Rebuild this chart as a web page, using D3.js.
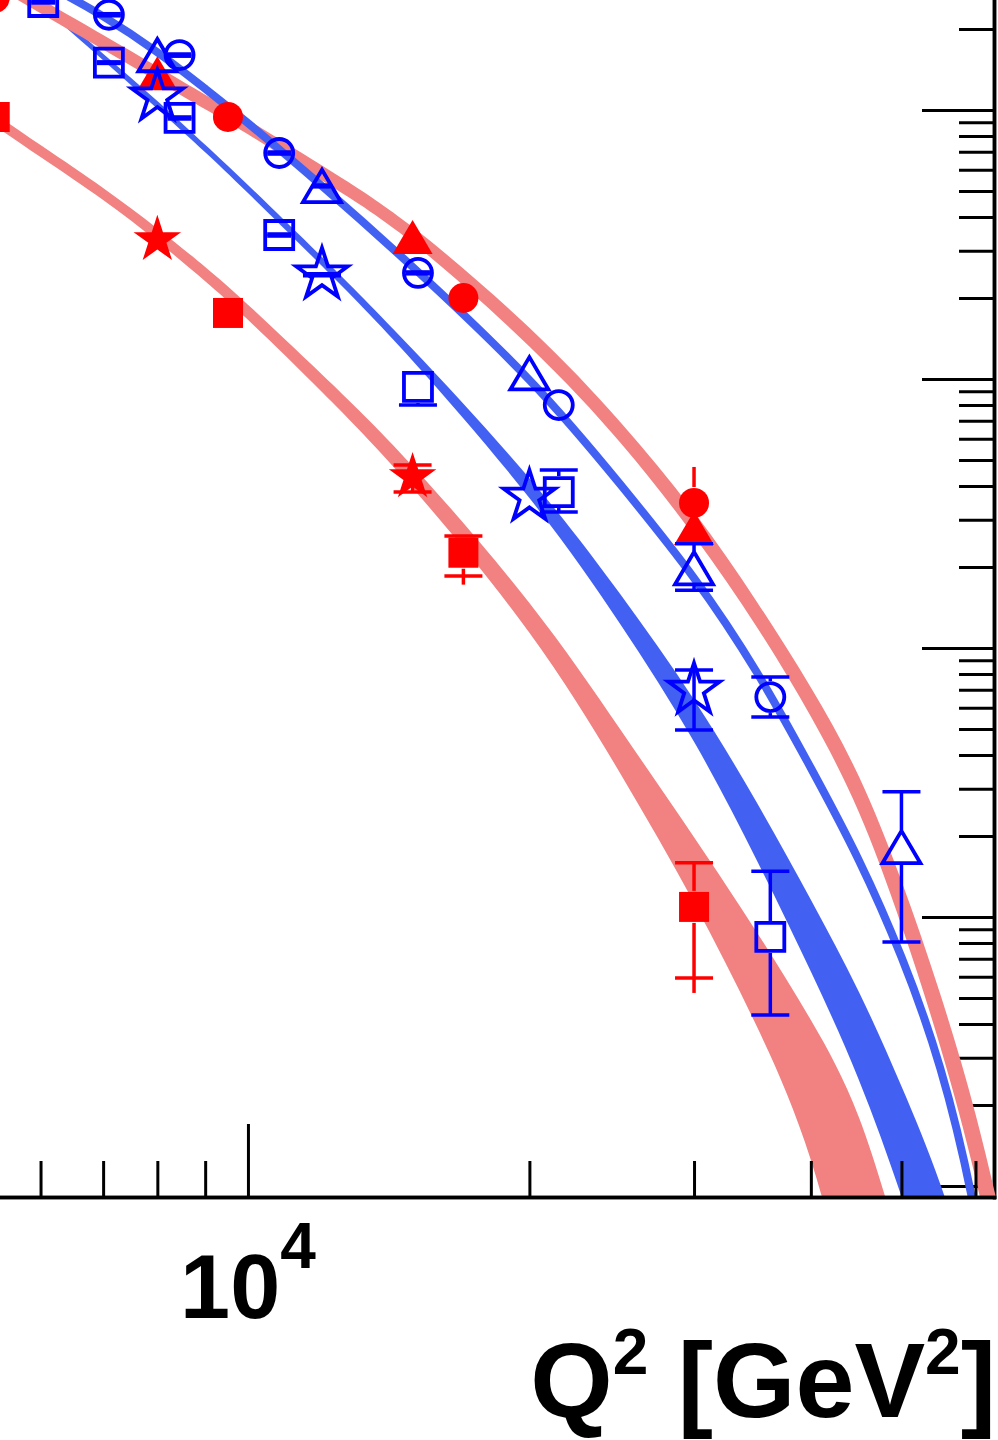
<!DOCTYPE html>
<html>
<head>
<meta charset="utf-8">
<script src="https://cdn.jsdelivr.net/npm/d3@7"></script>
<style>
  html, body { margin: 0; padding: 0; background: #ffffff; }
  svg { display: block; }
  text { font-family: "Liberation Sans", Arial, Helvetica, sans-serif; font-weight: bold; fill: #000; }
</style>
</head>
<body>
<svg id="chart" width="998" height="1440"></svg>
<script>
// ---------------------------------------------------------------
// Q² nodes (GeV²) at which the prediction bands are tabulated
const q2Nodes = [5000, 6000, 7000, 8000, 9000, 10000, 12000, 15000, 20000,
                 25000, 30000, 35000, 40000, 45000, 50000, 55000, 60000, 65000];

// upper red band: upper / lower edge
const upperRedHi = [3.75e-3, 2.59e-3, 1.90e-3, 1.45e-3, 1.14e-3, 9.20e-4, 6.22e-4, 3.67e-4, 1.55e-4,
                    6.93e-5, 3.20e-5, 1.49e-5, 7.13e-6, 3.34e-6, 1.36e-6, 5.18e-7, 1.85e-7, 5.81e-8];
const upperRedLo = [3.31e-3, 2.29e-3, 1.68e-3, 1.28e-3, 1.006e-3, 8.12e-4, 5.47e-4, 3.21e-4, 1.32e-4,
                    5.82e-5, 2.61e-5, 1.20e-5, 5.56e-6, 2.46e-6, 9.31e-7, 3.31e-7, 1.07e-7, 2.95e-8];

// upper blue curve
const upperBlue = [4.04e-3, 2.99e-3, 2.23e-3, 1.64e-3, 1.20e-3, 8.94e-4, 5.22e-4, 2.61e-4, 9.92e-5,
                   4.07e-5, 1.82e-5, 8.14e-6, 3.58e-6, 1.63e-6, 7.10e-7, 2.75e-7, 7.74e-8, 1.45e-8];

// lower blue band (first 17 nodes)
const lowerBlueHi = [4.48e-3, 2.59e-3, 1.62e-3, 1.08e-3, 7.42e-4, 5.26e-4, 2.84e-4, 1.29e-4, 4.28e-5,
                     1.59e-5, 6.42e-6, 2.67e-6, 1.16e-6, 5.29e-7, 2.35e-7, 1.02e-7, 3.89e-8];
const lowerBlueLo = [4.23e-3, 2.45e-3, 1.53e-3, 1.01e-3, 6.96e-4, 4.91e-4, 2.63e-4, 1.17e-4, 3.61e-5,
                     1.23e-5, 4.48e-6, 1.63e-6, 6.27e-7, 2.49e-7, 9.16e-8, 3.08e-8, 8.33e-9];

// lower red band (first 15 nodes)
const lowerRedHi = [1.14e-3, 7.41e-4, 5.13e-4, 3.63e-4, 2.61e-4, 1.89e-4, 1.04e-4, 4.75e-5, 1.47e-5,
                    5.00e-6, 1.98e-6, 8.80e-7, 4.14e-7, 1.81e-7, 5.64e-8];
const lowerRedLo = [1.03e-3, 6.69e-4, 4.63e-4, 3.25e-4, 2.31e-4, 1.66e-4, 8.95e-5, 3.93e-5, 1.14e-5,
                    3.43e-6, 1.13e-6, 3.93e-7, 1.25e-7, 2.52e-8, 4.32e-9];

// ---------------------------------------------------------------
// measured points (dσ/dQ²); errLo/errHi: capped bar ends, totLo/totHi: plain extension
const redCircleQ2  = [5360, 9520, 17000, 30000];
const redCircleVal = [2.61e-3, 9.42e-4, 2.00e-4, 3.46e-5];
const redCircleTotLo = [null, null, null, 2.63e-5];
const redCircleTotHi = [null, null, null, 4.71e-5];

const redSquareQ2  = [5360, 9520, 17000, 30000];
const redSquareVal = [9.42e-4, 1.76e-4, 2.26e-5, 1.09e-6];
const redSquareErrLo = [null, null, 1.85e-5, 5.93e-7];
const redSquareErrHi = [null, null, 2.61e-5, 1.59e-6];
const redSquareTotLo = [null, null, 1.72e-5, 5.22e-7];

const redTriangleQ2  = [8000, 15000, 30000];
const redTriangleVal = [1.37e-3, 3.37e-4, 2.79e-5];

const redStarQ2  = [8000, 15000];
const redStarVal = [3.29e-4, 4.32e-5];
const redStarErrLo = [null, 3.80e-5];
const redStarErrHi = [null, 4.79e-5];

const blueCircleQ2  = [7100, 8450, 10800, 15200, 21500, 36200];
const blueCircleVal = [2.26e-3, 1.60e-3, 6.92e-4, 2.48e-4, 8.00e-5, 6.57e-6];
const blueCircleErrLo = [2.24e-3, 1.585e-3, 6.86e-4, 2.46e-4, null, 5.54e-6];
const blueCircleErrHi = [2.28e-3, 1.615e-3, 6.98e-4, 2.50e-4, null, 7.80e-6];

const blueSquareQ2  = [6040, 7100, 8450, 10800, 15200, 21500, 36200];
const blueSquareVal = [2.52e-3, 1.50e-3, 9.34e-4, 3.43e-4, 9.34e-5, 3.80e-5, 8.43e-7];
const blueSquareErrLo = [2.50e-3, 1.49e-3, 9.26e-4, 3.40e-4, 8.00e-5, 3.20e-5, 4.32e-7];
const blueSquareErrHi = [2.54e-3, 1.51e-3, 9.42e-4, 3.46e-4, null, 4.59e-5, 1.48e-6];

const blueTriangleQ2  = [8000, 12000, 20000, 30000, 50000];
const blueTriangleVal = [1.60e-3, 5.22e-4, 1.05e-4, 1.98e-5, 1.82e-6];
const blueTriangleErrLo = [null, 5.18e-4, null, 1.64e-5, 8.07e-7];
const blueTriangleErrHi = [null, 5.26e-4, null, 2.44e-5, 2.92e-6];

const blueStarQ2  = [8000, 12000, 20000, 30000];
const blueStarVal = [1.12e-3, 2.44e-4, 3.64e-5, 6.98e-6];
const blueStarErrLo = [null, 2.42e-4, null, 4.96e-6];
const blueStarErrHi = [null, 2.46e-4, null, 8.28e-6];

// axis ranges, ticks and labels
const q2Range    = [5430, 62800];
const sigmaRange = [9.10e-8, 2.564e-3];
const xMajorTicks = [10000];
const xMinorTicks = [6000, 7000, 8000, 9000, 20000, 30000, 40000, 50000, 60000];
const yDecades = [1e-8, 1e-7, 1e-6, 1e-5, 1e-4, 1e-3];
const yMinorFactors = [2, 3, 4, 5, 6, 7, 8, 9];
const xTickLabelBase = "10";
const xTickLabelExp = "4";
const xTitleParts = ["Q", "2", " [GeV", "2", "]"];

// ---------------------------------------------------------------
const W = 998, H = 1440;
const frame = { right: 994, bottom: 1197 };
const pink = "#F28181";
const blueBand = "#4261F3";
const markerRed = "#FF0000";
const markerBlue = "#0000FF";

const svg = d3.select("#chart");
svg.append("rect").attr("width", W).attr("height", H).attr("fill", "#ffffff");

const x = d3.scaleLog().domain(q2Range).range([0, frame.right]);
const y = d3.scaleLog().domain(sigmaRange).range([frame.bottom, 0]);

svg.append("defs").append("clipPath").attr("id", "plotArea")
  .append("rect").attr("x", 0).attr("y", 0).attr("width", W).attr("height", frame.bottom);

function styleAxis(g) {
  g.selectAll("path.domain").attr("stroke", "#000").attr("stroke-width", 3.5).attr("stroke-linecap", "square");
  g.selectAll(".tick line").attr("stroke", "#000").attr("stroke-width", 3);
  g.selectAll(".tick text").remove();
}

// ---- right axis (drawn beneath the curves, ticks inward) ----
const yMinorTicks = [];
yDecades.forEach(d => yMinorFactors.forEach(f => {
  const v = d * f;
  if (v > sigmaRange[0] && v < sigmaRange[1]) yMinorTicks.push(v);
}));
const yMajorTicks = yDecades.filter(v => v > sigmaRange[0] && v < sigmaRange[1]);

svg.append("g").attr("transform", `translate(${frame.right},0)`)
  .call(d3.axisRight(y).tickValues(yMinorTicks).tickSize(-35).tickSizeOuter(0).tickFormat(""))
  .call(styleAxis);
svg.append("g").attr("transform", `translate(${frame.right},0)`)
  .call(d3.axisRight(y).tickValues(yMajorTicks).tickSize(-72).tickSizeOuter(0).tickFormat(""))
  .call(styleAxis);

// ---- prediction bands ----
const area = d3.area()
  .x(d => x(d.q)).y0(d => y(d.lo)).y1(d => y(d.hi))
  .curve(d3.curveNatural);
const line = d3.line()
  .x(d => x(d.q)).y(d => y(d.v))
  .curve(d3.curveNatural);
const bandRows = (lo, hi) => lo.map((v, i) => ({ q: q2Nodes[i], lo: v, hi: hi[i] }));

const curves = svg.append("g").attr("clip-path", "url(#plotArea)");
curves.append("path").attr("d", area(bandRows(lowerRedLo, lowerRedHi))).attr("fill", pink);
curves.append("path").attr("d", area(bandRows(lowerBlueLo, lowerBlueHi))).attr("fill", blueBand);
curves.append("path").attr("d", area(bandRows(upperRedLo, upperRedHi))).attr("fill", pink);
curves.append("path")
  .attr("d", line(upperBlue.map((v, i) => ({ q: q2Nodes[i], v }))))
  .attr("fill", "none").attr("stroke", blueBand).attr("stroke-width", 8);

// ---- bottom axis (on top of the bands, ticks inward) ----
svg.append("g").attr("transform", `translate(0,${frame.bottom})`)
  .call(d3.axisBottom(x).tickValues(xMinorTicks).tickSize(-36).tickSizeOuter(0).tickFormat(""))
  .call(styleAxis);
svg.append("g").attr("transform", `translate(0,${frame.bottom})`)
  .call(d3.axisBottom(x).tickValues(xMajorTicks).tickSize(-73).tickSizeOuter(0).tickFormat(""))
  .call(styleAxis);

// ---- marker shapes ----
const triangleShape = {
  draw(ctx, size) {
    const w = Math.sqrt(size) * 1.1, h = w * 0.85;
    ctx.moveTo(0, -h / 2);
    ctx.lineTo(w / 2, h / 2);
    ctx.lineTo(-w / 2, h / 2);
    ctx.closePath();
  }
};
// gap: half-height of the marker region left free of the error line
// inner: half-width of a cap that falls inside the marker
const shapes = {
  circle:   { type: d3.symbolCircle, size: r => Math.PI * r * r,           gap: 16, inner: 12 },
  square:   { type: d3.symbolSquare, size: r => (2 * r) * (2 * r),         gap: 16, inner: 12 },
  triangle: { type: triangleShape,   size: r => Math.pow(2 * r / 1.1, 2),  gap: 17, inner: 9 },
  star:     { type: d3.symbolStar,   size: r => r * r / 0.8908130915292852, gap: 0, inner: 9 }
};

const markers = svg.append("g").attr("clip-path", "url(#plotArea)");

function drawSeries(opts) {
  const g = markers.append("g");
  const col = opts.color;
  const shp = shapes[opts.shape];
  const capHalf = 19;
  const pick = (arr, i) => (arr && arr[i] != null ? arr[i] : null);
  opts.q2.forEach((q, i) => {
    const cx = x(q), cy = y(opts.val[i]);
    const lo = pick(opts.errLo, i), hi = pick(opts.errHi, i);
    const tlo = pick(opts.totLo, i) != null ? pick(opts.totLo, i) : lo;
    const thi = pick(opts.totHi, i) != null ? pick(opts.totHi, i) : hi;
    // vertical bar, split around the marker body
    [[tlo, 1], [thi, -1]].forEach(([v, dir]) => {
      if (v == null) return;
      const yEnd = y(v), yStart = cy + dir * shp.gap;
      if ((yEnd - yStart) * dir <= 0) return;
      g.append("line").attr("x1", cx).attr("x2", cx).attr("y1", yStart).attr("y2", yEnd)
        .attr("stroke", col).attr("stroke-width", 3.5);
    });
    // caps
    [lo, hi].forEach(v => {
      if (v == null) return;
      const yc = y(v);
      const half = Math.abs(yc - cy) < shp.gap ? shp.inner : capHalf;
      g.append("line").attr("x1", cx - half).attr("x2", cx + half)
        .attr("y1", yc).attr("y2", yc).attr("stroke", col).attr("stroke-width", 3.5);
    });
  });
  const sym = d3.symbol().type(shp.type).size(shp.size(opts.r));
  g.selectAll("path.mk").data(opts.q2.map((q, i) => [q, opts.val[i]])).join("path")
    .attr("class", "mk")
    .attr("transform", d => `translate(${x(d[0])},${y(d[1])})`)
    .attr("d", sym())
    .attr("fill", opts.filled ? col : "none")
    .attr("stroke", opts.filled ? "none" : col)
    .attr("stroke-width", opts.filled ? 0 : 3.8)
    .attr("stroke-linejoin", "miter");
}

// red filled markers
drawSeries({ q2: redCircleQ2, val: redCircleVal, totLo: redCircleTotLo, totHi: redCircleTotHi,
             shape: "circle", r: 15, filled: true, color: markerRed });
drawSeries({ q2: redSquareQ2, val: redSquareVal, errLo: redSquareErrLo, errHi: redSquareErrHi,
             totLo: redSquareTotLo, shape: "square", r: 15, filled: true, color: markerRed });
drawSeries({ q2: redTriangleQ2, val: redTriangleVal, shape: "triangle", r: 20, filled: true, color: markerRed });
drawSeries({ q2: redStarQ2, val: redStarVal, errLo: redStarErrLo, errHi: redStarErrHi,
             shape: "star", r: 25, filled: true, color: markerRed });

// blue open markers
drawSeries({ q2: blueCircleQ2, val: blueCircleVal, errLo: blueCircleErrLo, errHi: blueCircleErrHi,
             shape: "circle", r: 14, filled: false, color: markerBlue });
drawSeries({ q2: blueSquareQ2, val: blueSquareVal, errLo: blueSquareErrLo, errHi: blueSquareErrHi,
             shape: "square", r: 14, filled: false, color: markerBlue });
drawSeries({ q2: blueTriangleQ2, val: blueTriangleVal, errLo: blueTriangleErrLo, errHi: blueTriangleErrHi,
             shape: "triangle", r: 19, filled: false, color: markerBlue });
drawSeries({ q2: blueStarQ2, val: blueStarVal, errLo: blueStarErrLo, errHi: blueStarErrHi,
             shape: "star", r: 27, filled: false, color: markerBlue });

// ---- tick label and axis title ----
const tickLabel = svg.append("text")
  .attr("x", x(xMajorTicks[0])).attr("y", 1318)
  .attr("text-anchor", "middle").attr("font-size", 90);
tickLabel.append("tspan").text(xTickLabelBase);
tickLabel.append("tspan").attr("dy", -50).attr("font-size", 64).text(xTickLabelExp);

const title = svg.append("text")
  .attr("x", 996).attr("y", 1417)
  .attr("text-anchor", "end").attr("font-size", 106);
title.append("tspan").text(xTitleParts[0]);
title.append("tspan").attr("dy", -43).attr("font-size", 64).text(xTitleParts[1]);
title.append("tspan").attr("dy", 43).text(xTitleParts[2]);
title.append("tspan").attr("dy", -43).attr("font-size", 64).text(xTitleParts[3]);
title.append("tspan").attr("dy", 43).text(xTitleParts[4]);
</script>
</body>
</html>
